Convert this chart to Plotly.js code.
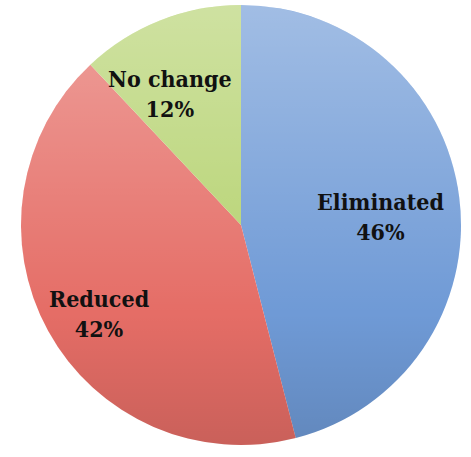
<!DOCTYPE html>
<html>
<head>
<meta charset="utf-8">
<script src="https://cdn.plot.ly/plotly-3.0.1.min.js"></script>
<style>
  html, body { margin: 0; padding: 0; background: #ffffff; }
  #chart { width: 471px; height: 457px; }
</style>
</head>
<body>
<div id="chart"></div>
<script>
// Outcome shares (percent of respondents)
const categories = ['Eliminated', 'Reduced', 'No change'];
const shares = [46, 42, 12];
const sliceColors = ['#6f9ad6', '#e56d66', '#b5d26f'];

// Label placement inside each slice: fraction of radius and angular nudge (deg)
const labelRadius = [0.636, 0.759, 0.68];
const labelTurn = [3.9, -3.2, -6.9];

const W = 471, H = 457;
const cx = 241, cy = 225, R = 220;

const total = shares.reduce((a, b) => a + b, 0);

// Label annotations positioned along each slice's mid-angle (clockwise from 12 o'clock)
const annotations = [];
let acc = 0;
shares.forEach((v, i) => {
  const mid = (acc + v / 2) / total * 360 + labelTurn[i];
  acc += v;
  const rad = mid * Math.PI / 180;
  const r = labelRadius[i] * R;
  const px = cx + r * Math.sin(rad);
  const py = cy - r * Math.cos(rad);
  annotations.push({
    x: px / W, y: 1 - py / H, xref: 'paper', yref: 'paper',
    xanchor: 'center', yanchor: 'middle', showarrow: false,
    text: categories[i] + '<br>' + Math.round(v / total * 100) + '%',
    align: 'center',
    font: { family: '"DejaVu Serif Condensed", "DejaVu Serif", serif', size: 23, color: '#111111', weight: 'bold' }
  });
});

// Soft vertical shading over the pie (lighter top, darker bottom)
const shadeSvg =
  '<svg xmlns="http://www.w3.org/2000/svg" width="440" height="440" viewBox="0 0 440 440">' +
  '<defs><linearGradient id="g" x1="0" y1="0" x2="0" y2="1">' +
  '<stop offset="0" stop-color="#ffffff" stop-opacity="0.35"/>' +
  '<stop offset="0.7" stop-color="#ffffff" stop-opacity="0"/>' +
  '<stop offset="0.7" stop-color="#000000" stop-opacity="0"/>' +
  '<stop offset="1" stop-color="#000000" stop-opacity="0.12"/>' +
  '</linearGradient></defs>' +
  '<circle cx="220" cy="220" r="220" fill="url(#g)"/></svg>';

const trace = {
  type: 'pie',
  labels: categories,
  values: shares,
  sort: false,
  direction: 'clockwise',
  rotation: 0,
  textinfo: 'none',
  hoverinfo: 'label+percent',
  marker: { colors: sliceColors, line: { width: 0 } },
  domain: {
    x: [(cx - R) / W, (cx + R) / W],
    y: [1 - (cy + R) / H, 1 - (cy - R) / H]
  },
  showlegend: false
};

const layout = {
  width: W, height: H,
  margin: { l: 0, r: 0, t: 0, b: 0 },
  paper_bgcolor: '#ffffff',
  showlegend: false,
  annotations: annotations,
  images: [{
    source: 'data:image/svg+xml;charset=utf-8,' + encodeURIComponent(shadeSvg),
    xref: 'paper', yref: 'paper',
    x: (cx - R) / W, y: 1 - (cy - R) / H,
    sizex: 2 * R / W, sizey: 2 * R / H,
    xanchor: 'left', yanchor: 'top',
    sizing: 'stretch', layer: 'above'
  }]
};

Plotly.newPlot('chart', [trace], layout, { displayModeBar: false, staticPlot: true });
</script>
</body>
</html>
